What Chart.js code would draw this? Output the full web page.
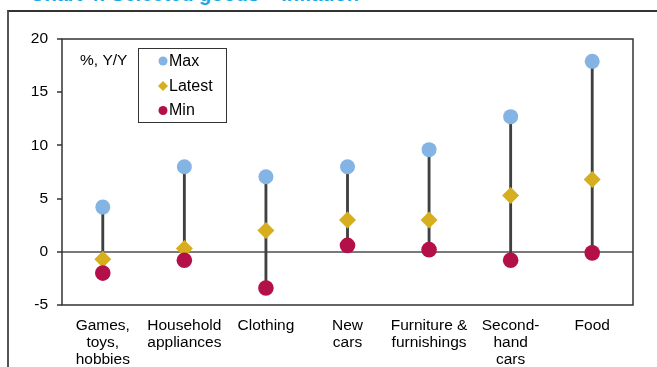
<!DOCTYPE html>
<html>
<head>
<meta charset="utf-8">
<script src="https://cdn.jsdelivr.net/npm/chart.js@4/dist/chart.umd.min.js"></script>
<style>
  html, body { margin: 0; padding: 0; background: #fff; overflow: hidden; }
  #wrap { position: relative; width: 657px; height: 367px; }
  #frame {
    position: absolute; left: 7px; top: 10px; width: 700px; height: 400px;
    border-left: 2px solid #555; border-top: 2px solid #333;
  }
  #title {
    position: absolute; left: 30px; top: -16px; white-space: nowrap;
    font: bold 20px Arial, "Liberation Sans", sans-serif; color: #19a9e2;
    line-height: 20px;
  }
  canvas { position: absolute; left: 0; top: 0; }
</style>
</head>
<body>
<div id="wrap">
  <div id="title">Chart 4: Selected goods – Inflation</div>
  <div id="frame"></div>
  <canvas id="myChart" width="657" height="367"></canvas>
</div>
<script>
const categories = [
    ['Games,', 'toys,', 'hobbies'],
    ['Household', 'appliances'],
    ['Clothing'],
    ['New', 'cars'],
    ['Furniture &', 'furnishings'],
    ['Second-', 'hand', 'cars'],
    ['Food']
];
const maxValues    = [4.2, 8.0, 7.05, 8.0, 9.6, 12.7, 17.9];
const latestValues = [-0.7, 0.3, 2.0, 3.0, 3.0, 5.3, 6.8];
const minValues    = [-2.0, -0.8, -3.4, 0.6, 0.2, -0.8, -0.1];
const yMin = -5, yMax = 20, yStep = 5;
const unitLabel = '%, Y/Y';

const FONT = 'Arial, "Liberation Sans", sans-serif';
const COL_MAX = '#83b4e3';
const COL_LATEST = '#d6ae1e';
const COL_MIN = '#b3104a';
const COL_STEM = '#404040';

// box round the plot area + the unit label + the legend
const framePlugin = {
    id: 'frame',
    beforeDatasetsDraw(chart) {
        const a = chart.chartArea, ctx = chart.ctx;
        ctx.save();
        ctx.strokeStyle = '#333';
        ctx.lineWidth = 1.5;
        ctx.strokeRect(a.left, a.top, a.right - a.left, a.bottom - a.top);
        ctx.restore();
    },
    afterDraw(chart) {
        const ctx = chart.ctx;
        ctx.save();
        ctx.font = '15.5px ' + FONT;
        ctx.fillStyle = '#000';
        ctx.textBaseline = 'middle';
        ctx.fillText(unitLabel, 80, 61);

        // legend
        ctx.font = '16px ' + FONT;
        ctx.strokeStyle = '#333';
        ctx.lineWidth = 1;
        ctx.strokeRect(138.5, 48.5, 88, 74);
        const items = [
            { text: 'Max', color: COL_MAX, shape: 'circle', y: 61 },
            { text: 'Latest', color: COL_LATEST, shape: 'diamond', y: 86 },
            { text: 'Min', color: COL_MIN, shape: 'circle', y: 110.5 }
        ];
        items.forEach(it => {
            ctx.fillStyle = it.color;
            ctx.beginPath();
            if (it.shape === 'circle') {
                ctx.arc(163, it.y, 4.5, 0, Math.PI * 2);
            } else {
                ctx.moveTo(163, it.y - 5);
                ctx.lineTo(168, it.y);
                ctx.lineTo(163, it.y + 5);
                ctx.lineTo(158, it.y);
                ctx.closePath();
            }
            ctx.fill();
            ctx.fillStyle = '#000';
            ctx.fillText(it.text, 169, it.y + 0.5);
        });
        ctx.restore();
    }
};

function createChart() {
    const ctx = document.getElementById('myChart').getContext('2d');

    const data = {
        labels: categories,
        datasets: [
            {
                type: 'line',
                label: 'Max',
                data: maxValues,
                showLine: false,
                pointStyle: 'circle',
                pointRadius: 7.5,
                pointHoverRadius: 7.5,
                pointBorderWidth: 0,
                pointBackgroundColor: COL_MAX,
                order: 3
            },
            {
                type: 'line',
                label: 'Latest',
                data: latestValues,
                showLine: false,
                pointStyle: 'rectRot',
                pointRadius: 8.5,
                pointHoverRadius: 8.5,
                pointBorderWidth: 0,
                pointBackgroundColor: COL_LATEST,
                order: 2
            },
            {
                type: 'line',
                label: 'Min',
                data: minValues,
                showLine: false,
                pointStyle: 'circle',
                pointRadius: 7.8,
                pointHoverRadius: 7.8,
                pointBorderWidth: 0,
                pointBackgroundColor: COL_MIN,
                order: 1
            },
            {
                // min-max stems
                type: 'bar',
                label: 'range',
                data: minValues.map((v, i) => [v, maxValues[i]]),
                backgroundColor: COL_STEM,
                barThickness: 2.2,
                order: 10
            }
        ]
    };

    const config = {
        type: 'bar',
        data: data,
        options: {
            responsive: false,
            animation: false,
            layout: { padding: { left: 0, top: 39, right: 24, bottom: 0 } },
            plugins: {
                legend: { display: false },
                tooltip: { enabled: false }
            },
            scales: {
                x: {
                    offset: true,
                    grid: { display: false, drawTicks: false },
                    border: { display: false },
                    ticks: {
                        color: '#000',
                        padding: 12,
                        maxRotation: 0,
                        autoSkip: false,
                        font: { family: FONT, size: 15.5, lineHeight: 1.1 }
                    },
                    afterFit: scale => { scale.height = 62; }
                },
                y: {
                    min: yMin,
                    max: yMax,
                    grid: {
                        drawOnChartArea: true,
                        color: c => (c.tick && c.tick.value === 0) ? '#7a7a7a' : 'rgba(0,0,0,0)',
                        lineWidth: 2,
                        tickColor: '#333',
                        tickWidth: 1.5,
                        tickLength: 5
                    },
                    border: { display: false },
                    ticks: {
                        stepSize: yStep,
                        color: '#000',
                        padding: 9,
                        font: { family: FONT, size: 15.5 }
                    },
                    afterFit: scale => { scale.width = 62; }
                }
            }
        },
        plugins: [framePlugin]
    };

    new Chart(ctx, config);
}

createChart();
</script>
</body>
</html>
